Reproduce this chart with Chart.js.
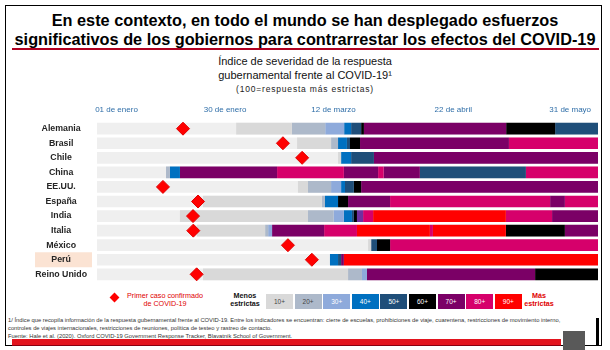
<!DOCTYPE html>
<html><head><meta charset="utf-8">
<script src="https://cdn.jsdelivr.net/npm/chart.js@4.4.0/dist/chart.umd.min.js"></script>
<style>
body{margin:0;width:610px;height:350px;overflow:hidden;background:#fff;font-family:"Liberation Sans",Arial,sans-serif;position:relative}
.abs{position:absolute}
.c{text-align:center;white-space:nowrap}
.box{position:absolute;top:294px;width:27px;height:15px;font-size:6.5px;line-height:15px;text-align:center;color:#fff}
.fn{position:absolute;left:8px;font-size:5.8px;line-height:7.5px;color:#333;white-space:nowrap}
</style></head><body>
<div class="abs" style="left:5px;top:5px;width:595px;height:339px;border:1px solid #000"></div>
<div class="abs c" style="left:0;width:610px;top:11px;font-weight:bold;font-size:16.3px;line-height:19px;color:#000">En este contexto, en todo el mundo se han desplegado esfuerzos<br>significativos de los gobiernos para contrarrestar los efectos del COVID-19</div>
<div class="abs" style="left:12px;top:48px;width:587px;height:2px;background:#b00020"></div>
<div class="abs c" style="left:0;width:610px;top:55px;font-size:11px;line-height:13.5px;color:#111">Índice de severidad de la respuesta<br>gubernamental frente al COVID-19¹</div>
<div class="abs c" style="left:0;width:610px;top:84px;font-size:8.5px;line-height:10px;letter-spacing:0.8px;color:#222">(100=respuesta más estrictas)</div>

<div class="abs" style="left:0;top:100px;width:610px;height:185px"><canvas id="c"></canvas></div>

<div class="abs" style="left:111px;top:294px;width:7px;height:7px;background:#f00;transform:rotate(45deg)"></div>
<div class="abs c" style="left:115px;width:100px;top:292px;font-size:7.2px;line-height:8px;color:#e00000">Primer caso confirmado<br>de COVID-19</div>
<div class="abs c" style="left:215px;width:60px;top:292px;font-size:7.2px;line-height:8px;font-weight:bold;color:#111">Menos<br>estrictas</div>
<div id="legboxes"></div>
<div class="abs c" style="left:519px;width:40px;top:292px;font-size:7.2px;line-height:8px;font-weight:bold;color:#e00000">Más<br>estrictas</div>

<div class="fn" style="top:317px">1/ Índice que recopila información de la respuesta gubernamental frente al COVID-19. Entre los indicadores se encuentran: cierre de escuelas, prohibiciones de viaje, cuarentena, restricciones de movimiento interno,</div>
<div class="fn" style="top:325px">controles de viajes internacionales, restricciones de reuniones, política de testeo y rastreo de contacto.</div>
<div class="fn" style="top:333px">Fuente: Hale et al. (2020). Oxford COVID-19 Government Response Tracker, Blavatnik School of Government.</div>
<div class="abs" style="left:12px;top:339px;width:549px;height:6px;background:#e3141e;border-bottom:1px solid #8a0010"></div>
<div class="abs" style="left:563px;top:331px;width:22px;height:19px;background:#595959"></div>
<div class="abs" style="left:596px;top:318px;width:3px;height:28px;background:#000"></div>

<script>
// ---- data (x in days along the timeline) ----
const countries = ['Alemania','Brasil','Chile','China','EE.UU.','España','India','Italia','México','Perú','Reino Unido'];
const tickDays = [7, 46, 85, 128, 170];
const tickLabels = ['01 de enero','30 de enero','12 de marzo','22 de abril','31 de mayo'];
const firstCaseDay = [30.9, 66.8, 73.7, null, 23.7, 36.3, 34.5, 34.6, 68.6, 77.2, 35.8];
const levels = [10, 20, 30, 40, 50, 60, 70, 80, 90];
const levelNames = ['10+','20+','30+','40+','50+','60+','70+','80+','90+'];
// segments: [start, end, level]
const segAlemania = [[50,70,10],[70,82,20],[82,88.8,30],[88.8,91.3,40],[91.3,94.9,50],[94.9,95.9,60],[95.9,147,70],[147,164.6,60],[164.6,180,50]];
const segBrasil = [[71.9,84.1,10],[84.1,86.6,20],[86.6,89.8,40],[89.8,90.9,50],[90.9,94.5,60],[94.5,148,70],[148,180,80]];
const segChile = [[86.6,87.7,10],[87.7,91.3,40],[91.3,99.5,50],[99.5,180,70]];
const segChina = [[24.8,26.2,20],[26.2,29.8,40],[29.8,64.7,70],[64.7,88.7,80],[88.7,101,70],[101,103,80],[103,116,70],[116,154.1,50],[154.1,180,80]];
const segEEUU = [[72.2,75.8,10],[75.8,84.1,20],[84.1,87.7,30],[87.7,89.1,40],[89.1,92.3,50],[92.3,94.9,60],[94.9,180,70]];
const segEspana = [[38.1,80.8,10],[80.8,81.9,20],[81.9,86.6,40],[86.6,90.2,60],[90.2,105.3,70],[105.3,162.8,80],[162.8,168.1,70],[168.1,180,80]];
const segIndia = [[29.8,75.8,10],[75.8,85,20],[85,88.7,30],[88.7,91.6,40],[91.6,92.3,50],[92.3,93.4,60],[93.4,95.6,75],[95.6,99.2,80],[99.2,146.9,90],[146.9,163.5,80],[163.5,180,70]];
const segItalia = [[35.9,60.4,10],[60.4,61.5,20],[61.5,62.9,30],[62.9,81.6,70],[81.6,93.4,80],[93.4,119.6,90],[119.6,120.7,80],[120.7,146.9,90],[146.9,168.1,60],[168.1,180,70]];
const segMexico = [[97.4,98.5,10],[98.5,100.6,50],[100.6,105.3,60],[105.3,180,80]];
const segPeru = [[83.7,86.6,40],[86.6,87.7,50],[87.7,88.7,70],[88.7,180,90]];
const segReinoUnido = [[38.1,90.2,10],[90.2,95.2,20],[95.2,97,30],[97,157.4,70],[157.4,180,60]];

const allSegs = [segAlemania,segBrasil,segChile,segChina,segEEUU,segEspana,segIndia,segItalia,segMexico,segPeru,segReinoUnido];
const colors = {0:'#efefef',10:'#d9d9d9',20:'#adb9ca',30:'#8eaadb',40:'#0070c0',50:'#1f4e79',60:'#000000',70:'#7b0066',75:'#7030a0',80:'#d6006b',90:'#ff0000'};
const legendText = {10:'#444',20:'#444'};

// legend boxes (HTML)
const lb = document.getElementById('legboxes');
levels.forEach((lv,i)=>{
  const d = document.createElement('div');
  d.className='box';
  d.style.left = (266 + i*28.6) + 'px';
  d.style.background = colors[lv];
  d.style.color = legendText[lv] || '#fff';
  d.textContent = levelNames[i];
  lb.appendChild(d);
});

const maxSeg = Math.max(...allSegs.map(s=>s.length));
const datasets = [];
datasets.push({
  type:'scatter', order:0,
  data: firstCaseDay.map((v,i)=> v==null?null:{x:v,y:countries[i]}).filter(p=>p),
  pointStyle:'rectRot', pointRadius:6.5, backgroundColor:'#ff0000', borderColor:'#e00000', borderWidth:1
});
for(let k=0;k<maxSeg;k++){
  datasets.push({
    type:'bar', order:1, indexAxis:'y',
    data: allSegs.map(s=> s[k] ? [s[k][0], s[k][1]] : null),
    backgroundColor: allSegs.map(s=> s[k] ? colors[s[k][2]] : 'rgba(0,0,0,0)'),
    borderWidth:0, borderSkipped:false,
    categoryPercentage:1, barPercentage:0.8
  });
}
datasets.push({
  type:'bar', order:2, indexAxis:'y',
  data: countries.map(()=>[0,180]),
  backgroundColor:'#efefef', borderWidth:0,
  categoryPercentage:1, barPercentage:0.8
});

const peruBox = {
  id:'peruBox',
  beforeDraw(chart){
    const y = chart.scales.y; const ctx = chart.ctx;
    const py = y.getPixelForValue(countries.indexOf('Perú'));
    ctx.save(); ctx.fillStyle='#fbe3d3';
    ctx.fillRect(35, py-7.5, 57, 15);
    ctx.restore();
  }
};

Chart.defaults.font.family = '"Liberation Sans", Arial, sans-serif';
new Chart(document.getElementById('c'), {
  type:'bar',
  data:{ labels: countries, datasets },
  options:{
    indexAxis:'y',
    responsive:true, maintainAspectRatio:false, animation:false, events:[],
    layout:{autoPadding:false, padding:{left:0,right:12,top:0,bottom:3.4}},
    plugins:{legend:{display:false}, tooltip:{enabled:false}},
    scales:{
      x:{ type:'linear', position:'top', min:0, max:180,
          grid:{display:false, drawTicks:false}, border:{display:false},
          afterBuildTicks(s){ s.ticks = tickDays.map(v=>({value:v})); },
          afterFit(s){ s.height = 21.4; s.paddingLeft = 0; s.paddingRight = 0; },
          ticks:{ padding:6.6, color:'#2f6ea8', font:{size:8}, maxRotation:0, autoSkip:false,
                  callback:(v)=>{ const i = tickDays.indexOf(v); return i>=0 ? tickLabels[i] : ''; } } },
      y:{ type:'category', labels: countries, stacked:true,
          grid:{display:false, drawTicks:false}, border:{display:false},
          afterFit(s){ s.width = 97; s.paddingTop = 0; s.paddingBottom = 0; },
          ticks:{ crossAlign:'center', padding:10, color:'#262626', font:{size:8.8, weight:'bold'}, autoSkip:false } }
    }
  },
  plugins:[peruBox]
});
</script>
</body></html>
